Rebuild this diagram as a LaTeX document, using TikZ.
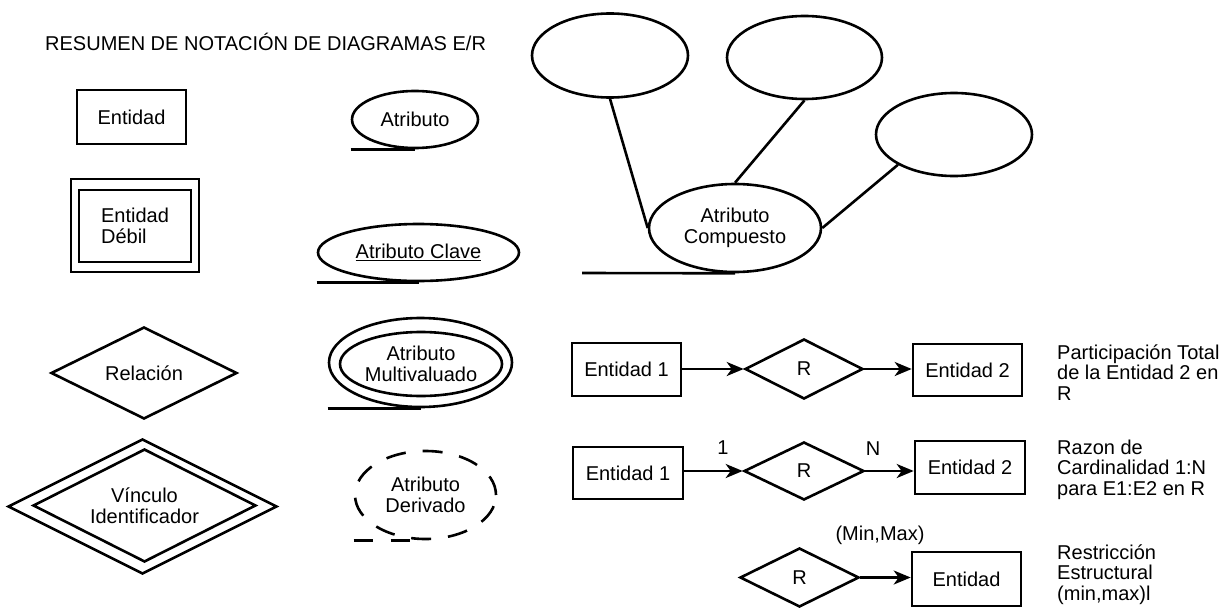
\documentclass[tikz,border=0pt]{standalone}
\usepackage{fontspec}
\setmainfont{Liberation Sans}
\usetikzlibrary{shapes.geometric,arrows.meta}
\begin{document}
\begin{tikzpicture}[x=1pt,y=-1pt,
  every node/.style={font=\fontsize{20}{20.5}\selectfont, inner sep=0pt},
  shp/.style={draw, line width=2.6pt},
  box/.style args={#1/#2}{shp, rectangle, minimum width=#1, minimum height=#2},
  dia/.style args={#1/#2}{shp, diamond, aspect=2, minimum width=#1, minimum height=#2},
  ell/.style args={#1/#2}{shp, ellipse, minimum width=#1, minimum height=#2},
  dsh/.style={dash pattern=on 20pt off 17pt},
  arr/.style={shp, -{Stealth[length=17pt,width=14pt,inset=5pt]}},
  lbl/.style={anchor=north west, align=left}
]
\useasboundingbox (0,0) rectangle (1228,610);

% title
\node[anchor=base west] (title) at (45,51) {RESUMEN DE NOTACIÓN DE DIAGRAMAS E/R};

% left column
\node[box={109/54}] (ent) at (131.5,117) {Entidad};
\node[box={128/93}] (weakout) at (135,225.5) {};
\node[box={112/72}, align=left] (weak) at (135,226) {Entidad\\Débil};
\node[dia={186/92}] (rel) at (144,373) {Relación};
\node[dia={269/135}] (vincout) at (142.5,506.5) {};
\node[dia={223/113}, align=center] (vinc) at (144.5,505.5) {Vínculo\\Identificador};

% attributes column
\node[ell={126/57}] (atr) at (415,119.5) {Atributo};
\draw[shp] (atr.west |- atr.south) -- (atr.south);
\node[ell={201/57}] (clave) at (418.5,252.5) {\underline{Atributo Clave}};
\draw[shp] (clave.west |- clave.south) -- (clave.south);
\node[ell={183/89}] (multout) at (420.5,362.5) {};
\node[ell={162/64}, align=center] (mult) at (421,364) {Atributo\\Multivaluado};
\draw[shp] (multout.west |- multout.south) -- (multout.south);
\node[ell={141/88}, dsh, align=center] (deriv) at (425.5,495) {Atributo\\Derivado};
\draw[shp, dash pattern=on 19pt off 18pt] (deriv.west |- deriv.south) -- (deriv.south);

% composite attribute
\node[ell={156/84}] (ca) at (610,55.5) {};
\node[ell={155/83}] (cb) at (804.5,57.5) {};
\node[ell={156/83}] (cc) at (954,134.5) {};
\node[ell={172/88}, align=center] (comp) at (735,228) {Atributo\\Compuesto};
\coordinate (compl) at (582,273);
\draw[shp] (compl) -- (comp.south);
\draw[shp] (ca.south) -- (comp.west);
\draw[shp] (cb.south) -- (comp.north);
\draw[shp] (cc.south west) -- (comp.east);

% row 1
\node[box={109/53}] (e1a) at (626.5,369.5) {Entidad 1};
\node[dia={118/60}] (ra) at (804,369) {R};
\node[box={109/52}] (e2a) at (967.5,370) {Entidad 2};
\draw[arr] (ra.west -| e1a.east) -- (ra.west);
\draw[arr] (ra.east) -- (ra.east -| e2a.west);
\node[lbl] (t1) at (1057,343) {\rule{0pt}{16pt}Participación Total\\de la Entidad 2 en\\R};

% row 2
\node[box={110/52}] (e1b) at (628,473) {Entidad 1};
\node[dia={120/58}] (rb) at (804,471) {R};
\node[box={110/53}] (e2b) at (970,467.5) {Entidad 2};
\draw[arr] (rb.west -| e1b.east) -- (rb.west);
\draw[arr] (rb.east) -- (rb.east -| e2b.west);
\node (one) at (723,448) {1};
\node (nn) at (873,449) {N};
\node[lbl] (t2) at (1057,438) {\rule{0pt}{16pt}Razon de\\Cardinalidad 1:N\\para E1:E2 en R};

% row 3
\node (mm) at (880,535) {(Min,Max)};
\node[dia={119/59}] (rc) at (799.5,577.5) {R};
\node[box={109/54}] (e3) at (966.5,579) {Entidad};
\draw[arr] (rc.east) -- (rc.east -| e3.west);
\node[lbl] (t3) at (1057,543) {\rule{0pt}{16pt}Restricción\\Estructural\\(min,max)l};
\end{tikzpicture}
\end{document}
